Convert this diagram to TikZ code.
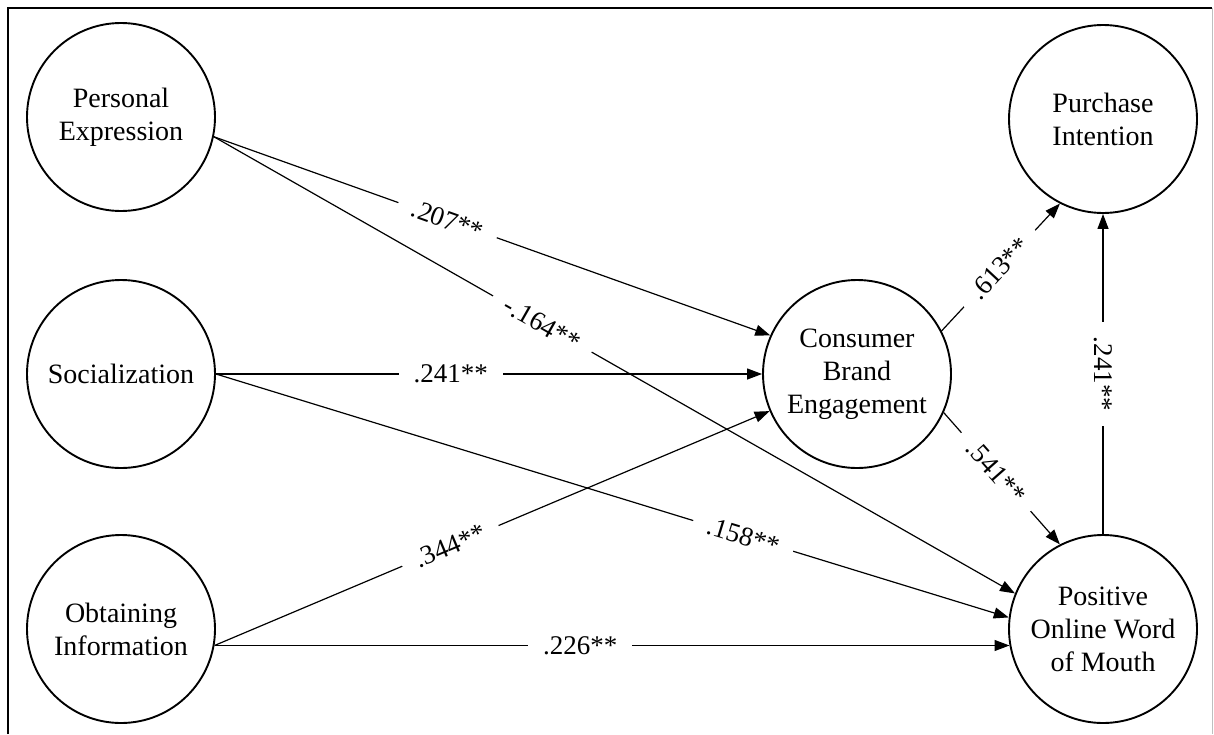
\documentclass[tikz,border=0pt]{standalone}
\usepackage{fontspec}
\setmainfont{Liberation Serif}
\usetikzlibrary{arrows.meta}
\begin{document}
\begin{tikzpicture}[x=1pt,y=-1pt,
  latent/.style={draw, circle, line width=1.9pt, minimum size=188pt, inner sep=0pt, align=center,
    font=\fontsize{28}{33}\selectfont},
  path/.style={line width=1.2pt, -{Triangle[length=15pt,width=11pt]}},
  coef/.style={fill=white, inner xsep=15pt, inner ysep=1pt, font=\fontsize{27}{31}\selectfont}]
\useasboundingbox (0,0) rectangle (1214,734);
% frame
\draw[line width=1.8pt] (8,734) -- (8,8) -- (1212,8);
\draw[line width=0.8pt, black!25] (1212,8) -- (1212,734);
% constructs
\node[latent] (pe) at (121,117) {Personal\\Expression};
\node[latent] (soc) at (121,374) {Socialization};
\node[latent] (oi) at (121,629) {Obtaining\\Information};
\node[latent] (cbe) at (857,374) {Consumer\\Brand\\Engagement};
\node[latent] (pi) at (1103,119) {Purchase\\Intention};
\node[latent] (powm) at (1103,629) {Positive\\Online Word\\of Mouth};
% paths
\draw[path] (pe.-12) -- node[coef, sloped, pos=0.42] {.207**} (cbe.156);
\draw[path] (pe.-12) -- node[coef, sloped, pos=0.41] {-.164**} (powm.158);
\draw[path] (soc.east) -- node[coef, pos=0.43] {.241**} (cbe.west);
\draw[path] (soc.east) -- node[coef, sloped, pos=0.665] {.158**} (powm.173);
\draw[path] (oi.-10) -- node[coef, sloped, pos=0.425] {.344**} (cbe.203);
\draw[path] (oi.-10) -- node[coef, pos=0.46] {.226**} (powm.190);
\draw[path] (cbe.27) -- node[coef, sloped, pos=0.49] {.613**} (pi.-117);
\draw[path] (cbe.-24) -- node[coef, sloped, pos=0.45] {.541**} (powm.117);
\draw[path] (powm.north) -- node[coef, rotate=-90, pos=0.5] {.241**} (pi.south);
\end{tikzpicture}
\end{document}
